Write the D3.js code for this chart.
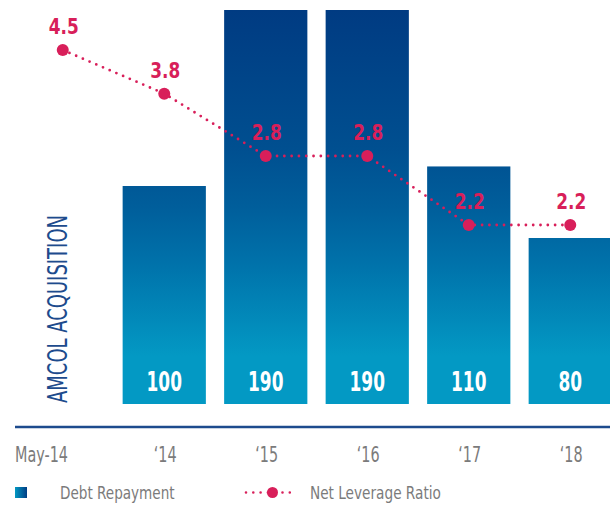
<!DOCTYPE html>
<html>
<head>
<meta charset="utf-8">
<script src="https://cdn.jsdelivr.net/npm/d3@7"></script>
<style>
  body { margin: 0; background: #fff; }
  svg { display: block; }
  text { font-family: "Liberation Sans Narrow", "DejaVu Sans Condensed", "Arial Narrow", sans-serif; }
</style>
</head>
<body>
<div id="chart"></div>
<script>
// data
let categories = ["May-14", "\u201814", "\u201815", "\u201816", "\u201817", "\u201818"];
let debtRepayment = [null, 100, 190, 190, 110, 80];
let netLeverage = [4.5, 3.8, 2.8, 2.8, 2.2, 2.2];
let seriesNames = ["Debt Repayment", "Net Leverage Ratio"];
let annotation = "AMCOL ACQUISITION";

const width = 610, height = 506;
const barBottom = 404, axisY = 427;
const red = "#d81f5a", navy = "#1d4b8d", grey = "#7b7b7b";

const svg = d3.select("#chart").append("svg")
    .attr("width", width)
    .attr("height", height);

// squeeze text horizontally to mimic the condensed face of the original
function squeeze(sel, factor) {
    sel.each(function () {
        let w = this.getComputedTextLength();
        d3.select(this)
            .attr("textLength", w * factor)
            .attr("lengthAdjust", "spacingAndGlyphs");
    });
}

// gradients
let defs = svg.append("defs");
let grad = defs.append("linearGradient")
    .attr("id", "barGrad")
    .attr("gradientUnits", "userSpaceOnUse")
    .attr("x1", 0).attr("x2", 0).attr("y1", 10).attr("y2", barBottom);
[[0, "#003b82"], [0.35, "#004f90"], [0.5, "#005e9b"], [0.65, "#0073ab"], [0.88, "#0399c4"], [1, "#0399c4"]]
    .forEach(s => grad.append("stop").attr("offset", s[0]).attr("stop-color", s[1]));

let legGrad = defs.append("linearGradient").attr("id", "legGrad")
    .attr("x1", 0).attr("x2", 1).attr("y1", 0).attr("y2", 0);
legGrad.append("stop").attr("offset", 0).attr("stop-color", "#0398c2");
legGrad.append("stop").attr("offset", 1).attr("stop-color", "#003d84");

// scales
let x = d3.scaleBand()
    .domain(categories)
    .range([12, 621])
    .paddingInner(0.18)
    .paddingOuter(0.09);

let yBar = d3.scaleLinear()
    .domain([80, 100, 190])
    .range([238, 186, 10]);

let yLine = d3.scaleLinear()
    .domain([2.2, 2.8, 4.5])
    .range([225, 156, 50]);

let barData = categories.map((c, i) => ({cat: c, v: debtRepayment[i]})).filter(d => d.v != null);
let lineData = categories.map((c, i) => ({cat: c, v: netLeverage[i]}));
let cx = d => x(d.cat) + x.bandwidth() / 2;

// bars
svg.append("g").selectAll("rect")
    .data(barData)
    .enter()
    .append("rect")
    .attr("x", d => x(d.cat))
    .attr("y", d => yBar(d.v))
    .attr("width", x.bandwidth())
    .attr("height", d => barBottom - yBar(d.v))
    .attr("fill", "url(#barGrad)");

svg.append("g").selectAll("text")
    .data(barData)
    .enter()
    .append("text")
    .attr("x", cx)
    .attr("y", barBottom - 13)
    .attr("text-anchor", "middle")
    .attr("fill", "#fff")
    .attr("font-size", 26)
    .attr("font-weight", "bold")
    .text(d => d.v)
    .attr("textLength", d => String(d.v).length * 11.8)
    .attr("lengthAdjust", "spacingAndGlyphs");

// vertical annotation
svg.append("text")
    .attr("transform", `translate(67,${barBottom - 1}) rotate(-90)`)
    .attr("fill", navy)
    .attr("font-size", 26)
    .attr("textLength", 188)
    .attr("lengthAdjust", "spacingAndGlyphs")
    .text(annotation);

// axis line
svg.append("line")
    .attr("x1", 15).attr("x2", width)
    .attr("y1", axisY).attr("y2", axisY)
    .attr("stroke", navy)
    .attr("stroke-width", 2.5);

// tick labels
svg.append("g").selectAll("text")
    .data(categories)
    .enter()
    .append("text")
    .attr("x", (d, i) => i === 0 ? 15 : x(d) + x.bandwidth() / 2 + 1)
    .attr("y", 462)
    .attr("text-anchor", (d, i) => i === 0 ? "start" : "middle")
    .attr("fill", grey)
    .attr("font-size", 20.5)
    .text(d => d)
    .call(squeeze, 0.78);

// leverage line
let line = d3.line().x(cx).y(d => yLine(d.v));
svg.append("path")
    .datum(lineData)
    .attr("d", line)
    .attr("fill", "none")
    .attr("stroke", red)
    .attr("stroke-width", 2.8)
    .attr("stroke-linecap", "round")
    .attr("stroke-dasharray", "0 7.3");

svg.append("g").selectAll("circle")
    .data(lineData)
    .enter()
    .append("circle")
    .attr("cx", cx)
    .attr("cy", d => yLine(d.v))
    .attr("r", 6)
    .attr("fill", red);

svg.append("g").selectAll("text")
    .data(lineData)
    .enter()
    .append("text")
    .attr("x", d => cx(d) + 1)
    .attr("y", d => yLine(d.v) - 16)
    .attr("text-anchor", "middle")
    .attr("fill", red)
    .attr("font-size", 22)
    .attr("font-weight", "bold")
    .text(d => d.v.toFixed(1))
    .attr("textLength", 30)
    .attr("lengthAdjust", "spacingAndGlyphs");

// legend
let legend = svg.append("g");
legend.append("rect")
    .attr("x", 15).attr("y", 487)
    .attr("width", 12).attr("height", 11)
    .attr("fill", "url(#legGrad)");
legend.append("text")
    .attr("x", 60).attr("y", 498.5)
    .attr("fill", grey)
    .attr("font-size", 18.5)
    .text(seriesNames[0])
    .call(squeeze, 0.815);
legend.append("line")
    .attr("x1", 246).attr("x2", 294)
    .attr("y1", 492.5).attr("y2", 492.5)
    .attr("stroke", red)
    .attr("stroke-width", 2.6)
    .attr("stroke-linecap", "round")
    .attr("stroke-dasharray", "0 7.3");
legend.append("circle")
    .attr("cx", 272.5).attr("cy", 492.5)
    .attr("r", 5.5)
    .attr("fill", red);
legend.append("text")
    .attr("x", 310).attr("y", 498.5)
    .attr("fill", grey)
    .attr("font-size", 18.5)
    .text(seriesNames[1])
    .call(squeeze, 0.82);
</script>
</body>
</html>
